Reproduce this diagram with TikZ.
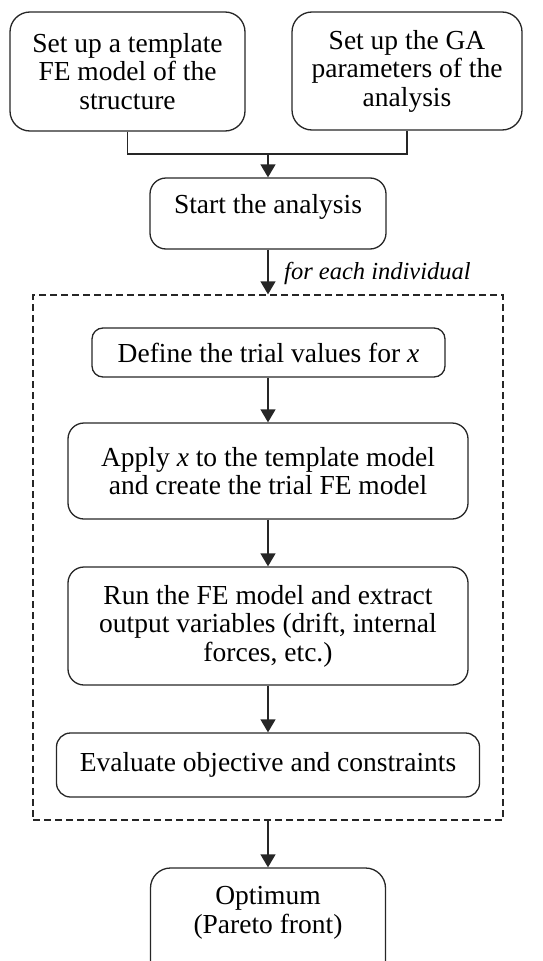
\documentclass[tikz,border=0pt]{standalone}
\usepackage{fontspec}
\setmainfont{Liberation Serif}
\usetikzlibrary{arrows.meta}
\begin{document}
\begin{tikzpicture}[x=1pt,y=-1pt,
  box/.style={draw=black!85, line width=1.3pt, rounded corners=16pt, align=center, inner sep=0pt,
    font=\fontsize{27.5}{28.5}\selectfont},
  txt/.style={align=center, inner sep=0pt, font=\fontsize{27.5}{28.5}\selectfont},
  arr/.style={line width=1.3pt, draw=black!85, -{Triangle[length=13pt,width=15pt]}},
  conn/.style={line width=1.3pt, draw=black!85}]
\useasboundingbox (0,0) rectangle (543,961);
\clip (0,0) rectangle (543,961);
\node[box, rounded corners=20pt, minimum width=235, minimum height=119] (b1) at (127.5,71.5)
  {Set up a template\\FE model of the\\structure};
\node[box, rounded corners=20pt, minimum width=230, minimum height=118] (b2) at (407,71)
  {Set up the GA\\parameters of the\\analysis};
\node[box, minimum width=236, minimum height=71] (b3) at (268,213.5) {};
\node[txt] (t3) at (268,207) {Start the analysis};
\coordinate (j) at (268,154);
\draw[conn] (b1.south) |- (j) -| (b2.south);
\draw[arr] (j) -- (b3.north);
\node[draw=black!85, line width=1.3pt, dash pattern=on 7pt off 4pt, minimum width=470, minimum height=525, inner sep=0pt] (loop) at (268,557.5) {};
\draw[arr] (b3.south) -- (b3.south |- loop.north);
\node[anchor=west, inner sep=0pt, font=\fontsize{24.5}{26}\selectfont\itshape] (lab) at (284,273) {for each individual};
\node[box, rounded corners=11pt, minimum width=353, minimum height=49] (b4) at (268.5,352.5)
  {Define the trial values for \textit{x}};
\node[box, minimum width=400, minimum height=96] (b5) at (268,471)
  {Apply \textit{x} to the template model\\and create the trial FE model};
\node[box, minimum width=400, minimum height=118] (b6) at (268,626)
  {Run the FE model and extract\\output variables (drift, internal\\forces, etc.)};
\node[box, rounded corners=14pt, minimum width=423, minimum height=64] (b7) at (268,765)
  {Evaluate objective and constraints};
\node[box, rounded corners=20pt, minimum width=235, minimum height=130] (b8) at (268,933) {};
\node[txt] (t8) at (268,913) {Optimum\\(Pareto front)};
\draw[arr] (b4.south -| b5.north) -- (b5.north);
\draw[arr] (b5.south) -- (b6.north);
\draw[arr] (b6.south) -- (b7.north);
\draw[arr] (loop.south) -- (b8.north);
\end{tikzpicture}
\end{document}
